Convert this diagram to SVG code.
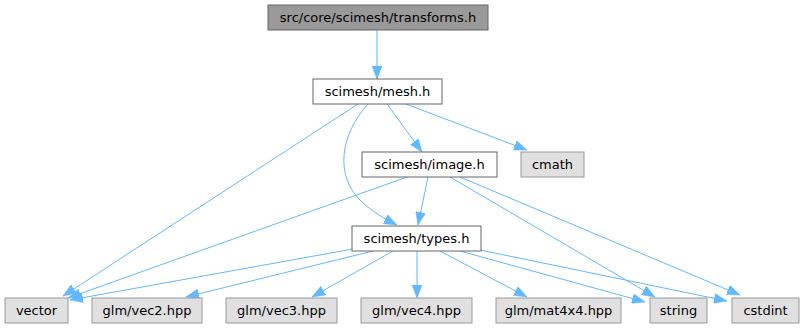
<svg xmlns="http://www.w3.org/2000/svg" width="805" height="329" viewBox="0 0 805 329">
<defs>
<style>
text{font-family:"DejaVu Sans",sans-serif;font-size:13px;fill:#000;text-anchor:middle}
.main rect{fill:#999999;stroke:#666666;stroke-width:1}
.int rect{fill:#ffffff;stroke:#666666;stroke-width:1}
.ext rect{fill:#e0e0e0;stroke:#999999;stroke-width:1}
.edges path{fill:none;stroke:#63b8ff;stroke-width:1}
</style>
<marker id="ah" viewBox="0 0 13 10" refX="13" refY="5" markerWidth="13" markerHeight="10" markerUnits="userSpaceOnUse" orient="auto">
<path d="M0,0 L13,5 L0,10 z" fill="#63b8ff" stroke="#63b8ff" stroke-width="0.5"/>
</marker>
</defs>
<rect width="805" height="329" fill="#ffffff"/>
<g class="edges">
<path d="M377,30 L377,79" marker-end="url(#ah)"/>
<path d="M358,104 L63,296" marker-end="url(#ah)"/>
<path d="M368,104 C340,135 335,175 360,200 C372,212 385,219 397,225" marker-end="url(#ah)"/>
<path d="M387,104 L422,152" marker-end="url(#ah)"/>
<path d="M406,104 L527,150" marker-end="url(#ah)"/>
<path d="M407,177 L68,298" marker-end="url(#ah)"/>
<path d="M428,177 L418,225" marker-end="url(#ah)"/>
<path d="M450,177 L655,297" marker-end="url(#ah)"/>
<path d="M460,177 L740,295" marker-end="url(#ah)"/>
<path d="M353,249 L70,300" marker-end="url(#ah)"/>
<path d="M373,251 L186,297" marker-end="url(#ah)"/>
<path d="M393,251 L312,297" marker-end="url(#ah)"/>
<path d="M417,251 L417,298" marker-end="url(#ah)"/>
<path d="M440,251 L527,297" marker-end="url(#ah)"/>
<path d="M460,251 L645,302" marker-end="url(#ah)"/>
<path d="M480,250 L727,301" marker-end="url(#ah)"/>
</g>
<g id="node1" class="main"><rect x="268" y="5" width="220" height="25"/><text x="378" y="22">src/core/scimesh/transforms.h</text></g>
<g id="node2" class="int"><rect x="313" y="79" width="129" height="25"/><text x="377.5" y="96">scimesh/mesh.h</text></g>
<g id="node3" class="int"><rect x="362" y="152" width="135" height="25"/><text x="429.5" y="169">scimesh/image.h</text></g>
<g id="node4" class="ext"><rect x="521" y="152" width="63" height="25"/><text x="552.5" y="169">cmath</text></g>
<g id="node5" class="int"><rect x="352" y="226" width="129" height="25"/><text x="416.5" y="243">scimesh/types.h</text></g>
<g id="node6" class="ext"><rect x="5" y="298" width="63" height="25"/><text x="36.5" y="315">vector</text></g>
<g id="node7" class="ext"><rect x="92" y="298" width="110" height="25"/><text x="147" y="315">glm/vec2.hpp</text></g>
<g id="node8" class="ext"><rect x="226" y="298" width="111" height="25"/><text x="281.5" y="315">glm/vec3.hpp</text></g>
<g id="node9" class="ext"><rect x="361" y="298" width="111" height="25"/><text x="416.5" y="315">glm/vec4.hpp</text></g>
<g id="node10" class="ext"><rect x="496" y="298" width="125" height="25"/><text x="558.5" y="315">glm/mat4x4.hpp</text></g>
<g id="node11" class="ext"><rect x="650" y="298" width="57" height="25"/><text x="678.5" y="315">string</text></g>
<g id="node12" class="ext"><rect x="732" y="298" width="67" height="25"/><text x="765.5" y="315">cstdint</text></g>
</svg>
